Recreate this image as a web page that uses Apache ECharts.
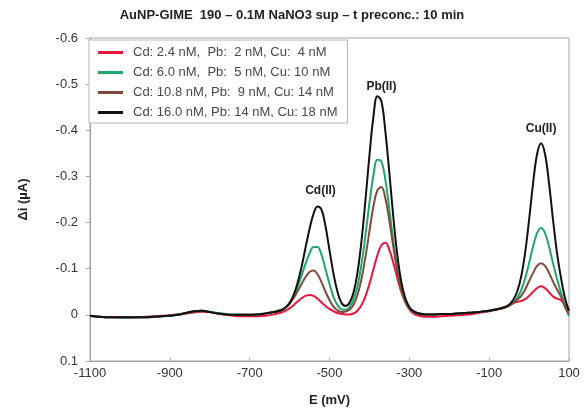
<!DOCTYPE html>
<html>
<head>
<meta charset="utf-8">
<script src="https://cdn.jsdelivr.net/npm/echarts@6/dist/echarts.min.js"></script>
<style>
html,body{margin:0;padding:0;background:#fff;}
#chart{width:584px;height:413px;}
</style>
</head>
<body>
<div id="chart"></div>
<script>
var titleText = 'AuNP-GIME  190 \u2013 0.1M NaNO3 sup \u2013 t preconc.: 10 min';
var xName = 'E (mV)';
var yName = '\u0394i (\u00b5A)';
var xTicks = [-1100, -900, -700, -500, -300, -100, 100];
var yTicks = [-0.6, -0.5, -0.4, -0.3, -0.2, -0.1, 0, 0.1];
var seriesNames = [
  'Cd: 2.4 nM,  Pb:  2 nM, Cu:  4 nM',
  'Cd: 6.0 nM,  Pb:  5 nM, Cu: 10 nM',
  'Cd: 10.8 nM, Pb:  9 nM, Cu: 14 nM',
  'Cd: 16.0 nM, Pb: 14 nM, Cu: 18 nM'
];
var peakNames = ['Cd(II)', 'Pb(II)', 'Cu(II)'];

// potential (mV)
var E = [-1100,-1080,-1060,-1040,-1020,-1000,-980,-960,-940,-920,-900,-880,-860,-840,-820,-800,-780,-760,-740,-720,-700,-680,-660,-640,
  -620,-610,-600,-590,-580,-570,-560,-550,-540,-530,-520,-510,-500,-490,-480,-470,-460,-450,-440,-430,-420,-410,-400,-390,-380,-370,-360,-350,-340,-330,-320,-310,-300,-290,-280,
  -260,-240,-220,-200,-180,-160,-140,-120,-100,-80,-60,
  -50,-40,-30,-20,-10,0,10,20,30,40,50,60,70,80,90,100];

// delta i (uA)
var red = [0.002,0.004,0.005,0.005,0.005,0.005,0.005,0.004,0.003,0.002,0.001,-0.001,-0.003,-0.005,-0.007,-0.006,-0.003,0.000,0.002,0.003,0.003,0.003,0.002,-0.001,
  -0.005,-0.009,-0.014,-0.021,-0.029,-0.036,-0.041,-0.043,-0.041,-0.035,-0.027,-0.019,-0.013,-0.008,-0.004,-0.002,-0.001,-0.001,-0.003,-0.009,-0.021,-0.040,-0.067,-0.099,-0.129,-0.151,-0.156,-0.141,-0.112,-0.079,-0.049,-0.027,-0.012,-0.003,0.001,
  0.004,0.004,0.003,0.002,0.001,0.000,-0.002,-0.005,-0.008,-0.012,-0.017,
  -0.021,-0.026,-0.028,-0.030,-0.034,-0.041,-0.050,-0.058,-0.062,-0.058,-0.049,-0.040,-0.035,-0.032,-0.022,-0.008];

var green = [0.003,0.004,0.005,0.005,0.006,0.006,0.005,0.005,0.004,0.003,0.002,0.000,-0.004,-0.008,-0.009,-0.007,-0.004,-0.002,0.000,0.000,0.000,-0.001,-0.003,-0.006,
  -0.011,-0.016,-0.025,-0.040,-0.060,-0.085,-0.111,-0.133,-0.147,-0.147,-0.130,-0.099,-0.067,-0.039,-0.021,-0.012,-0.011,-0.017,-0.033,-0.062,-0.109,-0.172,-0.242,-0.302,-0.336,-0.332,-0.292,-0.228,-0.159,-0.098,-0.055,-0.028,-0.014,-0.007,-0.003,
  -0.001,-0.001,-0.002,-0.002,-0.003,-0.004,-0.005,-0.007,-0.009,-0.012,-0.016,
  -0.020,-0.027,-0.037,-0.053,-0.079,-0.112,-0.148,-0.177,-0.188,-0.177,-0.148,-0.112,-0.078,-0.048,-0.020,0.003];

var brown = [0.002,0.004,0.005,0.005,0.005,0.005,0.005,0.005,0.004,0.003,0.001,-0.001,-0.004,-0.008,-0.009,-0.006,-0.003,-0.001,0.000,0.000,0.000,-0.001,-0.003,-0.006,
  -0.011,-0.016,-0.024,-0.036,-0.051,-0.067,-0.082,-0.093,-0.096,-0.088,-0.071,-0.050,-0.032,-0.018,-0.010,-0.006,-0.007,-0.011,-0.022,-0.043,-0.077,-0.125,-0.181,-0.235,-0.270,-0.277,-0.252,-0.204,-0.147,-0.095,-0.055,-0.029,-0.015,-0.008,-0.004,
  -0.001,-0.001,-0.002,-0.002,-0.003,-0.004,-0.005,-0.007,-0.009,-0.012,-0.016,
  -0.020,-0.025,-0.032,-0.041,-0.055,-0.073,-0.091,-0.106,-0.112,-0.106,-0.091,-0.072,-0.055,-0.039,-0.017,-0.002];

var black = [0.002,0.004,0.005,0.005,0.005,0.005,0.005,0.005,0.004,0.003,0.002,0.000,-0.004,-0.008,-0.009,-0.006,-0.003,-0.001,0.000,0.000,0.000,-0.001,-0.003,-0.006,
  -0.010,-0.016,-0.026,-0.043,-0.069,-0.104,-0.146,-0.186,-0.219,-0.235,-0.228,-0.192,-0.140,-0.089,-0.050,-0.026,-0.019,-0.026,-0.048,-0.091,-0.159,-0.248,-0.345,-0.429,-0.474,-0.463,-0.397,-0.307,-0.211,-0.129,-0.071,-0.036,-0.017,-0.008,-0.004,
  -0.001,-0.001,-0.002,-0.002,-0.003,-0.004,-0.005,-0.007,-0.009,-0.012,-0.017,
  -0.022,-0.032,-0.050,-0.082,-0.134,-0.206,-0.285,-0.348,-0.372,-0.348,-0.285,-0.206,-0.134,-0.080,-0.036,-0.009];

var colors = ['#e5173b', '#1ea86c', '#7e4a3c', '#111111'];
var allValues = [red, green, brown, black];

function pairs(vals) { return E.map(function (e, i) { return [e, vals[i]]; }); }
function peakOf(vals, lo, hi) {
  var best = null;
  for (var i = 0; i < E.length; i++) {
    if (E[i] >= lo && E[i] <= hi && (best === null || vals[i] < vals[best])) best = i;
  }
  return [E[best], vals[best]];
}

var FONT = 'Liberation Sans, Arial, sans-serif';
var peakRanges = [[-600, -480], [-450, -300], [-100, 100]];
var peakDist = [9, 3, 8];
var peakOffset = [[3, 0], [4, 0], [0, 0]];
var peakMarks = peakNames.map(function (n, k) {
  return {
    name: n,
    coord: peakOf(black, peakRanges[k][0], peakRanges[k][1]),
    label: { distance: peakDist[k], offset: peakOffset[k] }
  };
});

var series = allValues.map(function (vals, k) {
  var s = {
    name: seriesNames[k],
    type: 'line',
    data: pairs(vals),
    showSymbol: false,
    symbol: 'none',
    smooth: 0.4,
    lineStyle: { color: colors[k], width: 2 },
    itemStyle: { color: colors[k] },
    z: 2 + k,
    animation: false
  };
  if (k === 3) {
    s.markPoint = {
      symbol: 'circle',
      symbolSize: 1,
      itemStyle: { color: 'rgba(0,0,0,0)' },
      label: {
        show: true, position: 'top', formatter: '{b}',
        fontFamily: FONT, fontWeight: 'bold', fontSize: 12, color: '#222'
      },
      data: peakMarks,
      animation: false
    };
  }
  return s;
});

var chart = echarts.init(document.getElementById('chart'), null, { renderer: 'canvas' });
chart.setOption({
  animation: false,
  backgroundColor: '#fff',
  title: {
    text: titleText,
    left: 'center',
    top: 4,
    textStyle: { fontFamily: FONT, fontSize: 13, fontWeight: 'bold', color: '#222' }
  },
  legend: {
    data: seriesNames,
    orient: 'vertical',
    left: 89,
    top: 40,
    padding: [6, 10, 4, 9],
    itemGap: 7,
    itemWidth: 25,
    itemHeight: 3,
    icon: 'rect',
    borderColor: '#b8b8b8',
    borderWidth: 1,
    backgroundColor: '#fff',
    textStyle: { fontFamily: FONT, fontSize: 13, color: '#484848', padding: [0, 0, 0, 5] }
  },
  grid: {
    left: 90, right: 15, top: 38, bottom: 52,
    show: true, borderColor: '#a6a6a6', borderWidth: 1, backgroundColor: 'transparent'
  },
  xAxis: {
    type: 'value',
    min: xTicks[0],
    max: xTicks[xTicks.length - 1],
    interval: xTicks[1] - xTicks[0],
    name: xName,
    nameLocation: 'middle',
    nameGap: 33,
    nameTextStyle: { fontFamily: FONT, fontSize: 13, fontWeight: 'bold', color: '#222' },
    axisLine: { show: true, onZero: false, lineStyle: { color: '#a6a6a6', width: 1 } },
    axisTick: { show: true, inside: true, length: 3, lineStyle: { color: '#a6a6a6' } },
    splitLine: { show: false },
    axisLabel: {
      fontFamily: FONT, fontSize: 13, color: '#333', margin: 6,
      formatter: function (v) { return String(Math.round(v)); }
    }
  },
  yAxis: {
    type: 'value',
    inverse: true,
    min: yTicks[0],
    max: yTicks[yTicks.length - 1],
    interval: 0.1,
    name: yName,
    nameLocation: 'middle',
    nameGap: 60,
    nameRotate: 90,
    nameTextStyle: { fontFamily: FONT, fontSize: 13, fontWeight: 'bold', color: '#222' },
    axisLine: { show: true, onZero: false, lineStyle: { color: '#a6a6a6', width: 1 } },
    axisTick: { show: true, inside: false, length: 4, lineStyle: { color: '#a6a6a6' } },
    splitLine: { show: false },
    axisLabel: {
      fontFamily: FONT, fontSize: 13, color: '#333', margin: 12,
      formatter: function (v) { var r = Math.round(v * 10) / 10; return r === 0 ? '0' : r.toFixed(1); }
    }
  },
  series: series
});
</script>
</body>
</html>
